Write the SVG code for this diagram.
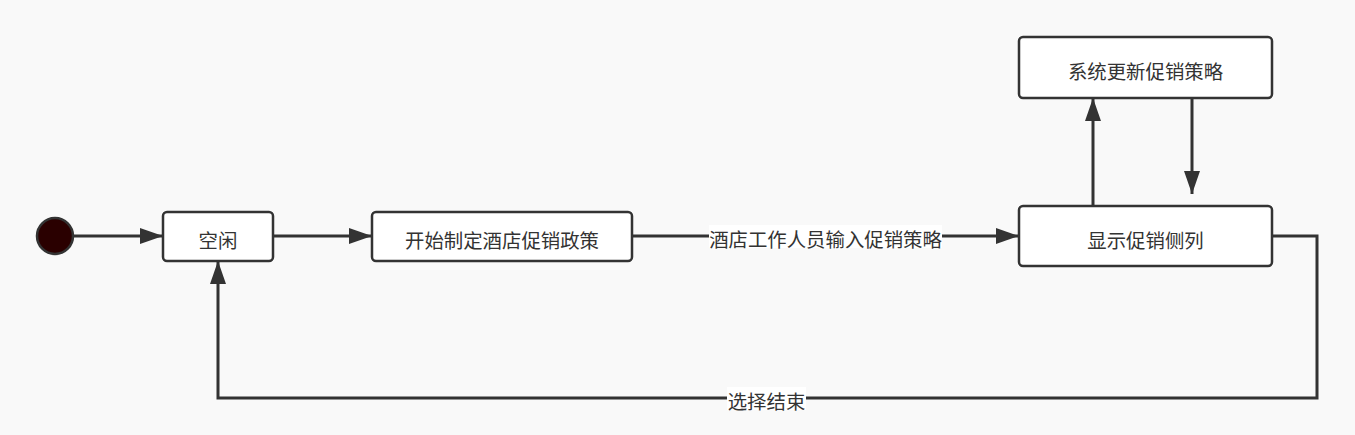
<svg xmlns="http://www.w3.org/2000/svg" width="1355" height="435" viewBox="0 0 1355 435">
<defs>
<style>
.node rect{fill:#ffffff;stroke:#333333;stroke-width:2.5}
.node text,.lbl{font-family:"Noto Sans CJK SC","Noto Sans",sans-serif;font-size:19.4px;fill:#333333;text-anchor:middle;dominant-baseline:central}
.edge{fill:none;stroke:#333333;stroke-width:3}
.lblbg{fill:#ffffff}
</style>
<marker id="arr" markerWidth="23" markerHeight="16" refX="23" refY="8" orient="auto" markerUnits="userSpaceOnUse">
<path d="M0,0 L23,8 L0,16 Z" fill="#333333"/>
</marker>
</defs>
<rect x="0" y="0" width="1355" height="435" fill="#f9f9f9"/>
<g id="connectors">
<path class="edge" d="M73,236 L163,236" marker-end="url(#arr)"/>
<path class="edge" d="M273,236 L372,236" marker-end="url(#arr)"/>
<path class="edge" d="M632,236 L1019,236" marker-end="url(#arr)"/>
<path class="edge" d="M1093,206 L1093,98" marker-end="url(#arr)"/>
<path class="edge" d="M1192,98 L1192,194" marker-end="url(#arr)"/>
<path class="edge" d="M1272,236 L1317,236 L1317,398 L218,398 L218,261" marker-end="url(#arr)"/>
<rect class="lblbg" x="709" y="225" width="233" height="23"/>
<text class="lbl" x="825.500" y="238">酒店工作人员输入促销策略</text>
<rect class="lblbg" x="727" y="387" width="79" height="23"/>
<text class="lbl" x="766.500" y="400">选择结束</text>
</g>
<g id="start">
<circle cx="55" cy="236" r="18" fill="#2a0000" stroke="#333333" stroke-width="2.5"/>
</g>
<g id="idle" class="node">
<rect x="163" y="212" width="110" height="49" rx="4"/>
<text x="218" y="239">空闲</text>
</g>
<g id="begin" class="node">
<rect x="372" y="212" width="260" height="49" rx="4"/>
<text x="502" y="239">开始制定酒店促销政策</text>
</g>
<g id="show" class="node">
<rect x="1019" y="206" width="253" height="60" rx="4"/>
<text x="1145.500" y="239">显示促销侧列</text>
</g>
<g id="update" class="node">
<rect x="1019" y="37" width="253" height="61" rx="4"/>
<text x="1145.500" y="70">系统更新促销策略</text>
</g>
</svg>
